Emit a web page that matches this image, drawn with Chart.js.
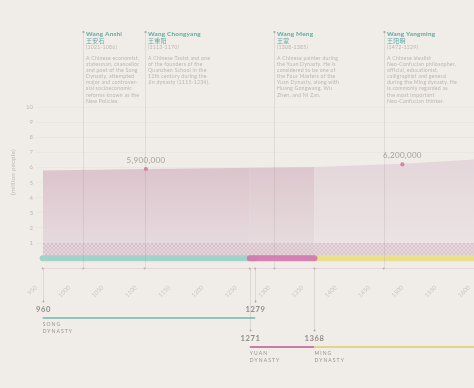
<!DOCTYPE html>
<html>
<head>
<meta charset="utf-8">
<script src="https://cdn.jsdelivr.net/npm/chart.js@4.4.1/dist/chart.umd.min.js"></script>
<style>
  html, body { margin: 0; padding: 0; background: #f0ede9; }
  #wrap { width: 474px; height: 388px; position: relative; }
</style>
</head>
<body>
<div id="wrap"><canvas id="popChart"></canvas></div>
<script>
// population of China (millions)
const popYears = [960, 1115, 1368, 1500, 1644];
const popValues = [5.8, 5.9, 6.03, 6.25, 6.62];

// the two labelled points
const calloutYears = [1115, 1500];
const calloutValues = [5.9, 6.2];
const calloutLabels = ['5,900,000', '6,200,000'];

// hatched base band
const baseLevel = 1;

const dynastyNames = ['SONG', 'YUAN', 'MING'];
const dynastyStart = [960, 1271, 1368];
const dynastyEnd = [1279, 1368, 1644];

const people = ['Wang Anshi', 'Wang Chongyang', 'Wang Meng', 'Wang Yangming'];
const peopleHanzi = ['王安石', '王重阳', '王蒙', '王阳明'];
const peopleBorn = [1021, 1113, 1308, 1472];
const peopleDied = [1086, 1170, 1385, 1529];
const peopleNotes = [
  ['A Chinese economist,', 'statesman, chancellor', 'and poet of the Song', 'Dynasty, attempted',
   'major and controver-', 'sial socioeconomic', 'reforms known as the', 'New Policies.'],
  ['A Chinese Taoist and one', 'of the founders of the', 'Quanzhen School in the',
   '12th century during the', 'Jin dynasty (1115-1234).'],
  ['A Chinese painter during', 'the Yuan Dynasty. He is', 'considered to be one of',
   'the Four Masters of the', 'Yuan Dynasty, along with', 'Huang Gongwang, Wu', 'Zhen, and Ni Zan.'],
  ['A Chinese idealist', 'Neo-Confucian philosopher,', 'official, educationist,',
   'calligraphist and general', 'during the Ming dynasty. He', 'is commonly regarded as',
   'the most important', 'Neo-Confucian thinker.']
];

// styling
const barColors = ['#a2d3ca', 'rgba(208,116,172,0.88)', '#e9df8e'];
const lineColors = ['#8ec5bd', '#c97ba9', '#e3d488'];
const bandTop = ['#dac1c9', '#dbc4cb', '#e4d6da'];
const bandBottom = ['#e8dee1', '#e8dfe1', '#ece5e6'];
const dynastyRow = [0, 1, 1];
const rowLineY = [318, 347];
const noteTop = 32;
const FONT = 'Lato, "Open Sans", sans-serif';

Chart.defaults.font.family = FONT;

const ctx = document.getElementById('popChart').getContext('2d');

function hatchPattern() {
  const c = document.createElement('canvas');
  c.width = 4; c.height = 4;
  const g = c.getContext('2d');
  g.fillStyle = 'rgba(226,208,214,0.5)';
  g.fillRect(0, 0, 4, 4);
  g.strokeStyle = 'rgba(200,160,178,0.55)';
  g.lineWidth = 0.7;
  g.beginPath();
  g.moveTo(0, 4); g.lineTo(4, 0);
  g.moveTo(-1, 1); g.lineTo(1, -1);
  g.moveTo(3, 5); g.lineTo(5, 3);
  g.moveTo(0, 0); g.lineTo(4, 4);
  g.moveTo(-1, 3); g.lineTo(1, 5);
  g.moveTo(3, -1); g.lineTo(5, 1);
  g.stroke();
  return ctx.createPattern(c, 'repeat');
}

let bandCache = null;
function bandFill(chart) {
  if (!chart.chartArea) return 'transparent';
  if (bandCache) return bandCache;
  const {x, y} = chart.scales;
  const c = document.createElement('canvas');
  c.width = chart.width; c.height = chart.height;
  const g = c.getContext('2d');
  const top = y.getPixelForValue(6.7), bottom = y.getPixelForValue(0);
  dynastyStart.forEach((s, i) => {
    const x0 = x.getPixelForValue(s);
    const x1 = i < dynastyStart.length - 1 ? x.getPixelForValue(dynastyStart[i + 1]) : chart.width;
    const grad = g.createLinearGradient(0, top, 0, bottom);
    grad.addColorStop(0, bandTop[i]);
    grad.addColorStop(1, bandBottom[i]);
    g.fillStyle = grad;
    g.fillRect(x0, 0, x1 - x0, chart.height);
  });
  bandCache = ctx.createPattern(c, 'no-repeat');
  return bandCache;
}

function spaced(g, px) {
  if ('letterSpacing' in g) g.letterSpacing = px + 'px';
}

const decor = {
  id: 'decor',
  afterDatasetsDraw(chart) {
    const {ctx: g, chartArea: ca, scales: {x, y}} = chart;
    g.save();

    // x axis line
    g.strokeStyle = '#e5d7da';
    g.lineWidth = 1;
    g.beginPath();
    g.moveTo(x.getPixelForValue(dynastyStart[0]), Math.round(ca.bottom) + 0.5);
    g.lineTo(chart.width, Math.round(ca.bottom) + 0.5);
    g.stroke();

    // person guide lines and notes
    people.forEach((name, i) => {
      const px = Math.round(x.getPixelForValue(peopleBorn[i])) + 0.5;
      g.strokeStyle = 'rgba(160,150,145,0.22)';
      g.beginPath();
      g.moveTo(px, noteTop);
      g.lineTo(px, ca.bottom);
      g.stroke();
      g.fillStyle = '#aaa39e';
      g.beginPath(); g.arc(px, noteTop, 1.1, 0, Math.PI * 2); g.fill();

      const tx = px + 2.5;
      g.textAlign = 'left';
      g.textBaseline = 'middle';
      spaced(g, 0.2);
      g.fillStyle = '#5fa99f';
      g.font = 'bold 6.4px ' + FONT;
      g.fillText(name, tx, noteTop + 1.5);
      g.font = '6px "Noto Sans CJK SC"';
      g.fillText(peopleHanzi[i], tx, noteTop + 8.5);
      g.fillStyle = '#bbb5af';
      g.font = '5.2px ' + FONT;
      g.fillText('(' + peopleBorn[i] + '-' + peopleDied[i] + ')', tx, noteTop + 15.5);
      peopleNotes[i].forEach((ln, k) => g.fillText(ln, tx, noteTop + 26 + k * 6.15));
    });

    // axis event dots
    const events = [...new Set([dynastyStart[0], dynastyEnd[0], ...dynastyStart, ...peopleBorn])];
    g.fillStyle = '#b9b1b1';
    events.forEach(v => {
      g.beginPath(); g.arc(x.getPixelForValue(v), Math.round(ca.bottom) + 0.5, 1, 0, Math.PI * 2); g.fill();
    });

    // callout labels
    g.textAlign = 'center';
    g.textBaseline = 'middle';
    spaced(g, 0.3);
    g.fillStyle = '#a39d97';
    g.font = '8px ' + FONT;
    calloutYears.forEach((v, i) => {
      g.fillText(calloutLabels[i], x.getPixelForValue(v), y.getPixelForValue(calloutValues[i]) - 9);
    });

    // y axis title
    g.save();
    g.translate(13, 172);
    g.rotate(-Math.PI / 2);
    spaced(g, 0.3);
    g.fillStyle = '#bab4ae';
    g.font = '6.2px ' + FONT;
    g.fillText('(million people)', 0, 0);
    g.restore();

    // dynasty timeline below the axis
    dynastyNames.forEach((nm, i) => {
      const ly = rowLineY[dynastyRow[i]];
      const x0 = x.getPixelForValue(dynastyStart[i]);
      const x1 = Math.min(x.getPixelForValue(dynastyEnd[i]), chart.width);
      g.strokeStyle = lineColors[i];
      g.lineWidth = 2;
      g.beginPath(); g.moveTo(x0, ly); g.lineTo(x1, ly); g.stroke();

      const marks = [dynastyStart[i]];
      const next = dynastyStart[i + 1];
      const sameRowNext = i + 1 < dynastyNames.length && dynastyRow[i + 1] === dynastyRow[i] && next === dynastyEnd[i];
      if (!sameRowNext && x.getPixelForValue(dynastyEnd[i]) < chart.width) marks.push(dynastyEnd[i]);
      marks.forEach(m => {
        const mx = Math.round(x.getPixelForValue(m)) + 0.5;
        g.strokeStyle = 'rgba(160,150,145,0.25)';
        g.lineWidth = 1;
        g.beginPath(); g.moveTo(mx, ca.bottom + 1); g.lineTo(mx, ly - 16.5); g.stroke();
        g.fillStyle = '#aaa39e';
        g.beginPath(); g.arc(mx, ly - 16.5, 0.9, 0, Math.PI * 2); g.fill();
        g.fillStyle = '#928c87';
        g.font = 'bold 7.6px ' + FONT;
        g.textAlign = 'center';
        spaced(g, 0.6);
        g.fillText(String(m), mx, ly - 8);
      });

      g.fillStyle = '#958f8a';
      g.font = '5px ' + FONT;
      g.textAlign = 'left';
      spaced(g, 1.1);
      g.fillText(nm, x0, ly + 6.5);
      g.fillText('DYNASTY', x0, ly + 13.5);
    });

    g.restore();
  }
};

function barSet(i) {
  return {
    data: [{x: dynastyStart[i], y: 0}, {x: dynastyEnd[i], y: 0}],
    borderColor: barColors[i],
    borderWidth: 6,
    borderCapStyle: 'round',
    pointRadius: 0,
    fill: false
  };
}

new Chart(ctx, {
  type: 'line',
  data: {
    datasets: [
      barSet(1),
      barSet(0),
      barSet(2),
      {
        data: calloutYears.map((v, i) => ({x: v, y: calloutValues[i]})),
        showLine: false,
        pointRadius: 2.1,
        pointBackgroundColor: '#d8849b',
        pointBorderWidth: 0
      },
      {
        data: [{x: dynastyStart[0], y: baseLevel}, {x: dynastyEnd[2], y: baseLevel}],
        borderWidth: 0,
        pointRadius: 0,
        fill: 'origin',
        backgroundColor: hatchPattern()
      },
      {
        data: popYears.map((v, i) => ({x: v, y: popValues[i]})),
        borderWidth: 0,
        pointRadius: 0,
        tension: 0,
        fill: 'origin',
        backgroundColor: c => bandFill(c.chart)
      }
    ]
  },
  options: {
    responsive: true,
    maintainAspectRatio: false,
    animation: false,
    events: [],
    layout: { autoPadding: false, padding: { top: 107, right: 0, bottom: 90, left: 0 } },
    plugins: { legend: { display: false }, tooltip: { enabled: false } },
    scales: {
      x: {
        type: 'linear',
        min: 950,
        max: 1607.5,
        grid: { display: false },
        border: { display: false },
        ticks: {
          stepSize: 50,
          includeBounds: false,
          autoSkip: false,
          minRotation: 45,
          maxRotation: 45,
          padding: 8,
          color: '#c9c4bf',
          font: { size: 6 },
          callback: v => String(v)
        },
        afterFit: s => { s.height = 30; s.paddingLeft = 0; s.paddingRight = 0; }
      },
      y: {
        min: -0.65,
        max: 10,
        border: { display: false },
        grid: {
          drawTicks: false,
          color: c => (c.tick && c.tick.value >= 1 ? 'rgba(0,0,0,0.025)' : 'transparent')
        },
        ticks: {
          stepSize: 1,
          includeBounds: false,
          padding: 3,
          color: '#bdb7b1',
          font: { size: 6 },
          callback: v => (v >= 1 ? String(v) : '')
        },
        afterFit: s => { s.width = 36; }
      }
    }
  },
  plugins: [decor]
});
</script>
</body>
</html>
